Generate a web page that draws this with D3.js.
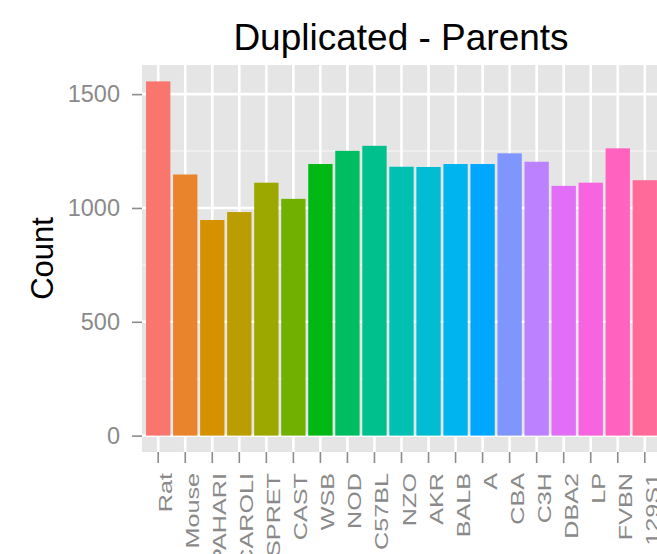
<!DOCTYPE html>
<html>
<head>
<meta charset="utf-8">
<script src="https://cdn.jsdelivr.net/npm/d3@7"></script>
<style>
  html, body { margin: 0; padding: 0; background: #fff; }
  svg { display: block; overflow: hidden; }
  text { font-family: "Liberation Sans", Arial, Helvetica, sans-serif; }
</style>
</head>
<body>
<svg id="chart" width="657" height="554"></svg>
<script>
// Strains and duplicated-gene counts
const strains = ["Rat", "Mouse", "PAHARI", "CAROLI", "SPRET", "CAST", "WSB", "NOD", "C57BL",
  "NZO", "AKR", "BALB", "A", "CBA", "C3H", "DBA2", "LP", "FVBN", "129S1"];
const counts = [1556, 1147, 947, 982, 1111, 1040, 1193, 1251, 1273,
  1181, 1180, 1193, 1193, 1240, 1203, 1097, 1111, 1262, 1122];
const yTicks = [0, 500, 1000, 1500];
const yMinor = [250, 750, 1250];
const yLimits = [-72, 1628];

// Polar CIE-Luv -> sRGB, the same colour space used by R's hcl()
function hclLuv(h, c, l) {
  const Xn = 95.047, Yn = 100, Zn = 108.883;
  const den = Xn + 15 * Yn + 3 * Zn;
  const un = 4 * Xn / den, vn = 9 * Yn / den;
  const hr = h * Math.PI / 180;
  const U = c * Math.cos(hr), V = c * Math.sin(hr);
  const Y = Yn * (l > 8 ? Math.pow((l + 16) / 116, 3) : l / 903.3);
  const u = U / (13 * l) + un, v = V / (13 * l) + vn;
  const X = 9 * Y * u / (4 * v);
  const Z = Y * (12 - 3 * u - 20 * v) / (4 * v);
  const x = X / 100, y = Y / 100, z = Z / 100;
  const lin = [
    3.240479 * x - 1.537150 * y - 0.498535 * z,
    -0.969256 * x + 1.875992 * y + 0.041556 * z,
    0.055648 * x - 0.204043 * y + 1.057311 * z
  ];
  const g = lin.map(t => {
    const s = t <= 0.0031308 ? 12.92 * t : 1.055 * Math.pow(t, 1 / 2.4) - 0.055;
    return Math.round(Math.max(0, Math.min(1, s)) * 255);
  });
  return d3.rgb(g[0], g[1], g[2]).formatHex();
}
// Evenly spaced hues, starting at 15 degrees
const hueColors = strains.map((_, i) => hclLuv(15 + i * 360 / strains.length, 100, 65));

const svg = d3.select("#chart");
const panel = { left: 142, top: 65, right: 661, bottom: 452 };

const x = d3.scaleBand()
  .domain(strains)
  .range([panel.left, panel.right])
  .paddingInner(0.1)
  .paddingOuter(0.15);

const y = d3.scaleLinear()
  .domain(yLimits)
  .range([panel.bottom, panel.top]);

// Panel background
svg.append("rect")
  .attr("x", panel.left).attr("y", panel.top)
  .attr("width", panel.right - panel.left).attr("height", panel.bottom - panel.top)
  .attr("fill", "#E5E5E5");

// Grid lines
const grid = svg.append("g");
grid.selectAll(".minor").data(yMinor).join("line")
  .attr("x1", panel.left).attr("x2", panel.right)
  .attr("y1", d => y(d)).attr("y2", d => y(d))
  .attr("stroke", "#F2F2F2").attr("stroke-width", 1.4);
grid.selectAll(".hmajor").data(yTicks).join("line")
  .attr("x1", panel.left).attr("x2", panel.right)
  .attr("y1", d => y(d)).attr("y2", d => y(d))
  .attr("stroke", "#FFFFFF").attr("stroke-width", 2.6);
grid.selectAll(".vmajor").data(strains).join("line")
  .attr("x1", d => x(d) + x.bandwidth() / 2).attr("x2", d => x(d) + x.bandwidth() / 2)
  .attr("y1", panel.top).attr("y2", panel.bottom)
  .attr("stroke", "#FFFFFF").attr("stroke-width", 2.6);

// Bars
svg.append("g").selectAll("rect").data(strains).join("rect")
  .attr("x", d => x(d))
  .attr("width", x.bandwidth())
  .attr("y", (d, i) => y(counts[i]))
  .attr("height", (d, i) => y(0) - y(counts[i]))
  .attr("fill", (d, i) => hueColors[i]);

// Y axis
const yAxis = svg.append("g")
  .attr("transform", `translate(${panel.left},0)`)
  .call(d3.axisLeft(y).tickValues(yTicks).tickFormat(d3.format("d"))
    .tickSize(10).tickSizeOuter(0).tickPadding(12));
yAxis.select(".domain").remove();
yAxis.selectAll("line").attr("stroke", "#8C8C8C").attr("stroke-width", 1.6);
yAxis.selectAll("text")
  .attr("fill", "#8A8A8A")
  .style("font-size", "23.5px");

// X axis
const xAxis = svg.append("g")
  .attr("transform", `translate(0,${panel.bottom})`)
  .call(d3.axisBottom(x).tickSize(11).tickSizeOuter(0));
xAxis.select(".domain").remove();
xAxis.selectAll("line").attr("stroke", "#8C8C8C").attr("stroke-width", 1.6);
xAxis.selectAll("text")
  .attr("x", null).attr("y", null).attr("dy", null)
  .attr("text-anchor", "end")
  .attr("transform", "translate(14,21) rotate(-90) scale(1.4,1)")
  .attr("fill", "#8A8A8A")
  .style("font-size", "18px");

// Axis title
svg.append("text")
  .attr("transform", `translate(53,${(panel.top + panel.bottom) / 2}) rotate(-90)`)
  .attr("text-anchor", "middle")
  .attr("fill", "#000")
  .style("font-size", "31px")
  .text("Count");

// Plot title
svg.append("text")
  .attr("x", 401).attr("y", 50)
  .attr("text-anchor", "middle")
  .attr("fill", "#000")
  .style("font-size", "37px")
  .text("Duplicated - Parents");
</script>
</body>
</html>
